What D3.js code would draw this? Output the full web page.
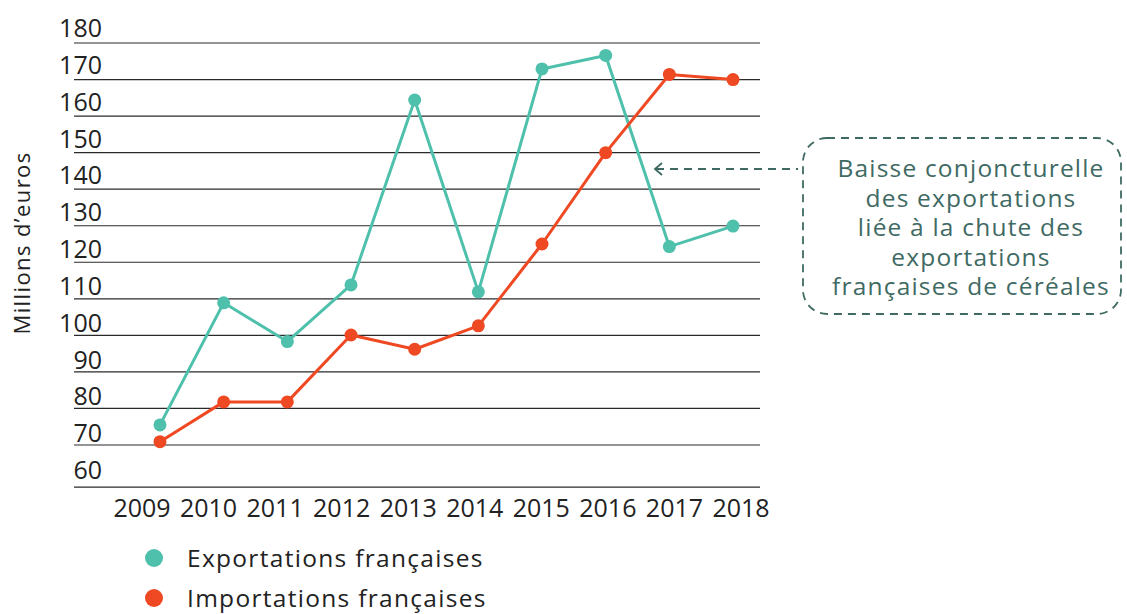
<!DOCTYPE html>
<html>
<head>
<meta charset="utf-8">
<script src="https://cdn.jsdelivr.net/npm/d3@7"></script>
<style>
  html, body { margin: 0; padding: 0; background: #fff; }
  svg { display: block; font-family: "Open Sans", sans-serif; }
</style>
</head>
<body>
<svg id="chart" width="1127" height="614"></svg>
<script>
const years = [2009, 2010, 2011, 2012, 2013, 2014, 2015, 2016, 2017, 2018];
const exportations = [75.5, 108.9, 98.3, 113.8, 164.4, 111.9, 172.9, 176.6, 124.3, 129.9];
const importations = [70.9, 81.8, 81.8, 100.1, 96.2, 102.6, 125.0, 150.0, 171.4, 170.0];
const yTicks = [60, 70, 80, 90, 100, 110, 120, 130, 140, 150, 160, 170, 180];
const seriesNames = ["Exportations françaises", "Importations françaises"];
const seriesColors = ["#4ec0ab", "#ee4923"];
const yTitle = "Millions d’euros";
const noteLines = ["Baisse conjoncturelle", "des exportations", "liée à la chute des", "exportations", "françaises de céréales"];

const svg = d3.select("#chart");

const x = d3.scalePoint().domain(years).range([160, 733]);
const xLabel = d3.scalePoint().domain(years).range([142, 741]);
const y = d3.scaleLinear().domain([70, 180]).range([445, 43]);
const yLabel = d3.scaleLinear().domain([60, 180]).range([479, 37]);

// gridlines
svg.append("g").selectAll("line")
  .data(yTicks)
  .join("line")
  .attr("x1", 74).attr("x2", 760)
  .attr("y1", d => d === 60 ? y(60) + 5.5 : y(d))
  .attr("y2", d => d === 60 ? y(60) + 5.5 : y(d))
  .attr("stroke", "#2a2a2a")
  .attr("stroke-width", 1.2);

// y labels
svg.append("g").selectAll("text")
  .data(yTicks)
  .join("text")
  .attr("x", 102)
  .attr("y", d => yLabel(d))
  .attr("text-anchor", "end")
  .attr("font-size", 25)
  .attr("fill", "#222")
  .text(d => d);

// x labels
svg.append("g").selectAll("text")
  .data(years)
  .join("text")
  .attr("x", d => xLabel(d))
  .attr("y", 517)
  .attr("text-anchor", "middle")
  .attr("font-size", 25)
  .attr("fill", "#222")
  .text(d => d);

// y title
svg.append("text")
  .attr("transform", "translate(30,243) rotate(-90)")
  .attr("text-anchor", "middle")
  .attr("font-size", 22)
  .attr("letter-spacing", 1.4)
  .attr("fill", "#222")
  .text(yTitle);

// series
const series = [exportations, importations];
const line = d3.line().x((d, i) => x(years[i])).y(d => y(d));
series.forEach((vals, si) => {
  const g = svg.append("g");
  g.append("path")
    .attr("d", line(vals))
    .attr("fill", "none")
    .attr("stroke", seriesColors[si])
    .attr("stroke-width", 3)
    .attr("stroke-linejoin", "round");
  g.selectAll("circle")
    .data(vals)
    .join("circle")
    .attr("cx", (d, i) => x(years[i]))
    .attr("cy", d => y(d))
    .attr("r", 6.5)
    .attr("fill", seriesColors[si]);
});

// annotation
const noteColor = "#3f6a63";
svg.append("rect")
  .attr("x", 803).attr("y", 138)
  .attr("width", 318).attr("height", 176)
  .attr("rx", 24).attr("ry", 24)
  .attr("fill", "none")
  .attr("stroke", noteColor)
  .attr("stroke-width", 1.8)
  .attr("stroke-dasharray", "8,6");

svg.append("line")
  .attr("x1", 656).attr("x2", 798)
  .attr("y1", 169).attr("y2", 169)
  .attr("stroke", noteColor)
  .attr("stroke-width", 1.8)
  .attr("stroke-dasharray", "8,6");
svg.append("path")
  .attr("d", "M662,163 L655,169 L662,175")
  .attr("fill", "none")
  .attr("stroke", noteColor)
  .attr("stroke-width", 1.8);

svg.append("g").selectAll("text")
  .data(noteLines)
  .join("text")
  .attr("x", 971)
  .attr("y", (d, i) => 177 + i * 29.5)
  .attr("text-anchor", "middle")
  .attr("font-size", 24.5)
  .attr("letter-spacing", 1.2)
  .attr("fill", noteColor)
  .text(d => d);

// legend
const leg = svg.append("g").selectAll("g")
  .data(seriesNames)
  .join("g")
  .attr("transform", (d, i) => `translate(154,${558 + i * 40})`);
leg.append("circle").attr("r", 9).attr("fill", (d, i) => seriesColors[i]);
leg.append("text")
  .attr("x", 33).attr("y", 9)
  .attr("font-size", 24.5)
  .attr("letter-spacing", 1.3)
  .attr("fill", "#222")
  .text(d => d);
</script>
</body>
</html>
